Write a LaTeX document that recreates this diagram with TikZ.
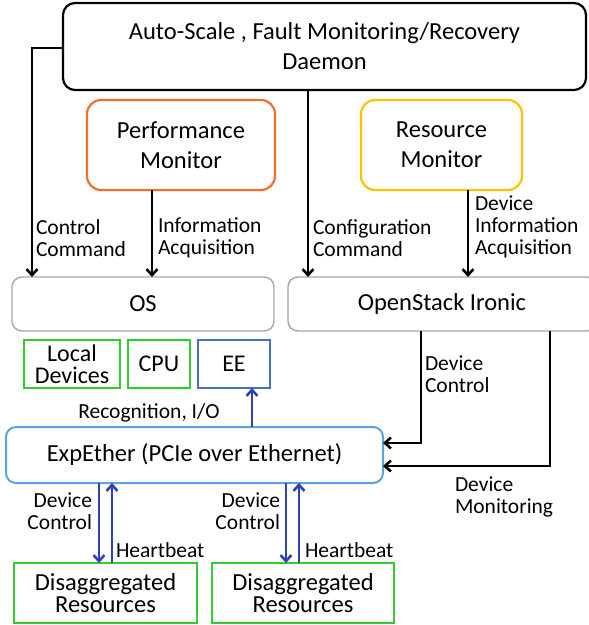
\documentclass[tikz,border=0pt]{standalone}
\usepackage{fontspec}
\setmainfont{Carlito}
\usetikzlibrary{arrows.meta}
\definecolor{cOrange}{HTML}{F07030}
\definecolor{cGold}{HTML}{FFC000}
\definecolor{cGray}{HTML}{A6A6A6}
\definecolor{cGreen}{HTML}{33CC33}
\definecolor{cBlue}{HTML}{4472C4}
\definecolor{cLight}{HTML}{5BA3E0}
\definecolor{cArrow}{HTML}{2F42B2}
\begin{document}
\begin{tikzpicture}[x=1pt,y=-1pt,
  box/.style={draw, line width=2pt, inner sep=0pt, outer sep=0pt, align=center,
    font=\fontsize{24.5}{30}\selectfont},
  rbox/.style={box, rounded corners=12pt},
  sbox/.style={box, font=\fontsize{24}{22}\selectfont},
  lab/.style={inner sep=0pt, outer sep=0pt, font=\fontsize{21.5}{22}\selectfont},
  tip/.style={-{Straight Barb[length=6pt,width=11pt]}},
  blk/.style={draw=black, line width=2.6pt, tip},
  blu/.style={draw=cArrow, line width=2.6pt, tip}
]
\useasboundingbox (0,0) rectangle (589,625);

% boxes
\node[rbox, draw=black, line width=2.2pt, minimum width=523pt, minimum height=87pt] (top) at (324.5,46.5)
  {Auto-Scale , Fault Monitoring/Recovery\\Daemon};
\node[rbox, draw=cOrange, line width=2.2pt, rounded corners=14pt, minimum width=188pt, minimum height=90pt] (perf) at (181,145)
  {Performance\\Monitor};
\node[rbox, draw=cGold, line width=2.2pt, rounded corners=14pt, minimum width=161pt, minimum height=90pt] (res) at (441.5,145)
  {Resource\\Monitor};
\node[rbox, draw=cGray, line width=1.4pt, rounded corners=10pt, minimum width=262pt, minimum height=54pt] (os) at (143,304) {OS};
\node[rbox, draw=cGray, line width=1.4pt, rounded corners=10pt, minimum width=308pt, minimum height=54pt] (ironic) at (442,304) {OpenStack Ironic};
\node[sbox, draw=cGreen, minimum width=96pt, minimum height=48pt] (loc) at (72,364) {Local\\Devices};
\node[sbox, draw=cGreen, minimum width=62pt, minimum height=48pt] (cpu) at (159,364) {CPU};
\node[sbox, draw=cBlue, minimum width=72pt, minimum height=48pt] (ee) at (234,364) {EE};
\node[rbox, draw=cLight, rounded corners=10pt, minimum width=377pt, minimum height=56pt] (exp) at (194.5,455)
  {ExpEther (PCIe over Ethernet)};
\node[box, draw=cGreen, font=\fontsize{24.5}{22.5}\selectfont, minimum width=183pt, minimum height=60pt] (dis1) at (105.5,593)
  {Disaggregated\\Resources};
\node[box, draw=cGreen, font=\fontsize{24.5}{22.5}\selectfont, minimum width=182pt, minimum height=60pt] (dis2) at (303,593)
  {Disaggregated\\Resources};

% columns
\coordinate (cL) at (32,0);
\coordinate (cP) at (152,0);
\coordinate (cM) at (308,0);
\coordinate (cR) at (468,0);
\coordinate (cD1) at (421,0);
\coordinate (cD2) at (550,0);
\coordinate (cE) at (252,0);
\coordinate (cB1) at (99,0);
\coordinate (cB1u) at (112,0);
\coordinate (cB2) at (286,0);
\coordinate (cB2u) at (299,0);

% connectors
\draw[blk] ([yshift=-1.5pt]top.west) -| (os.north -| cL);
\draw[blk] (perf.south -| cP) -- (os.north -| cP);
\draw[blk] (top.south -| cM) -- (ironic.north -| cM);
\draw[blk] (res.south -| cR) -- (ironic.north -| cR);
\draw[blk] (ironic.south -| cD1) |- ([yshift=12pt]exp.east);
\draw[blk] (ironic.south -| cD2) |- ([yshift=-11pt]exp.east);
\draw[blu] (exp.north -| cE) -- (ee.south -| cE);
\draw[blu] (exp.south -| cB1) -- (dis1.north -| cB1);
\draw[blu] (dis1.north -| cB1u) -- (exp.south -| cB1u);
\draw[blu] (exp.south -| cB2) -- (dis2.north -| cB2);
\draw[blu] (dis2.north -| cB2u) -- (exp.south -| cB2u);

% labels
\node[lab, anchor=west, align=left] (l1) at (36,238) {Control\\Command};
\node[lab, anchor=west, align=left] (l2) at (158,238) {Information\\Acquisition};
\node[lab, anchor=west, align=left] (l3) at (313,238) {Configuration\\Command};
\node[lab, anchor=west, align=left] (l4) at (475,227) {Device\\Information\\Acquisition};
\node[lab, anchor=west, align=left] (l5) at (425,374) {Device\\Control};
\node[lab] (l6) at (149,413) {Recognition, I/O};
\node[lab, anchor=west, align=left] (l7) at (455,497) {Device\\Monitoring};
\node[lab, anchor=east, align=right] (l8) at (92,511) {Device\\Control};
\node[lab, anchor=east, align=right] (l9) at (280,511) {Device\\Control};
\node[lab, anchor=west] (l10) at (116,550) {Heartbeat};
\node[lab, anchor=west] (l11) at (305,550) {Heartbeat};
\end{tikzpicture}
\end{document}
